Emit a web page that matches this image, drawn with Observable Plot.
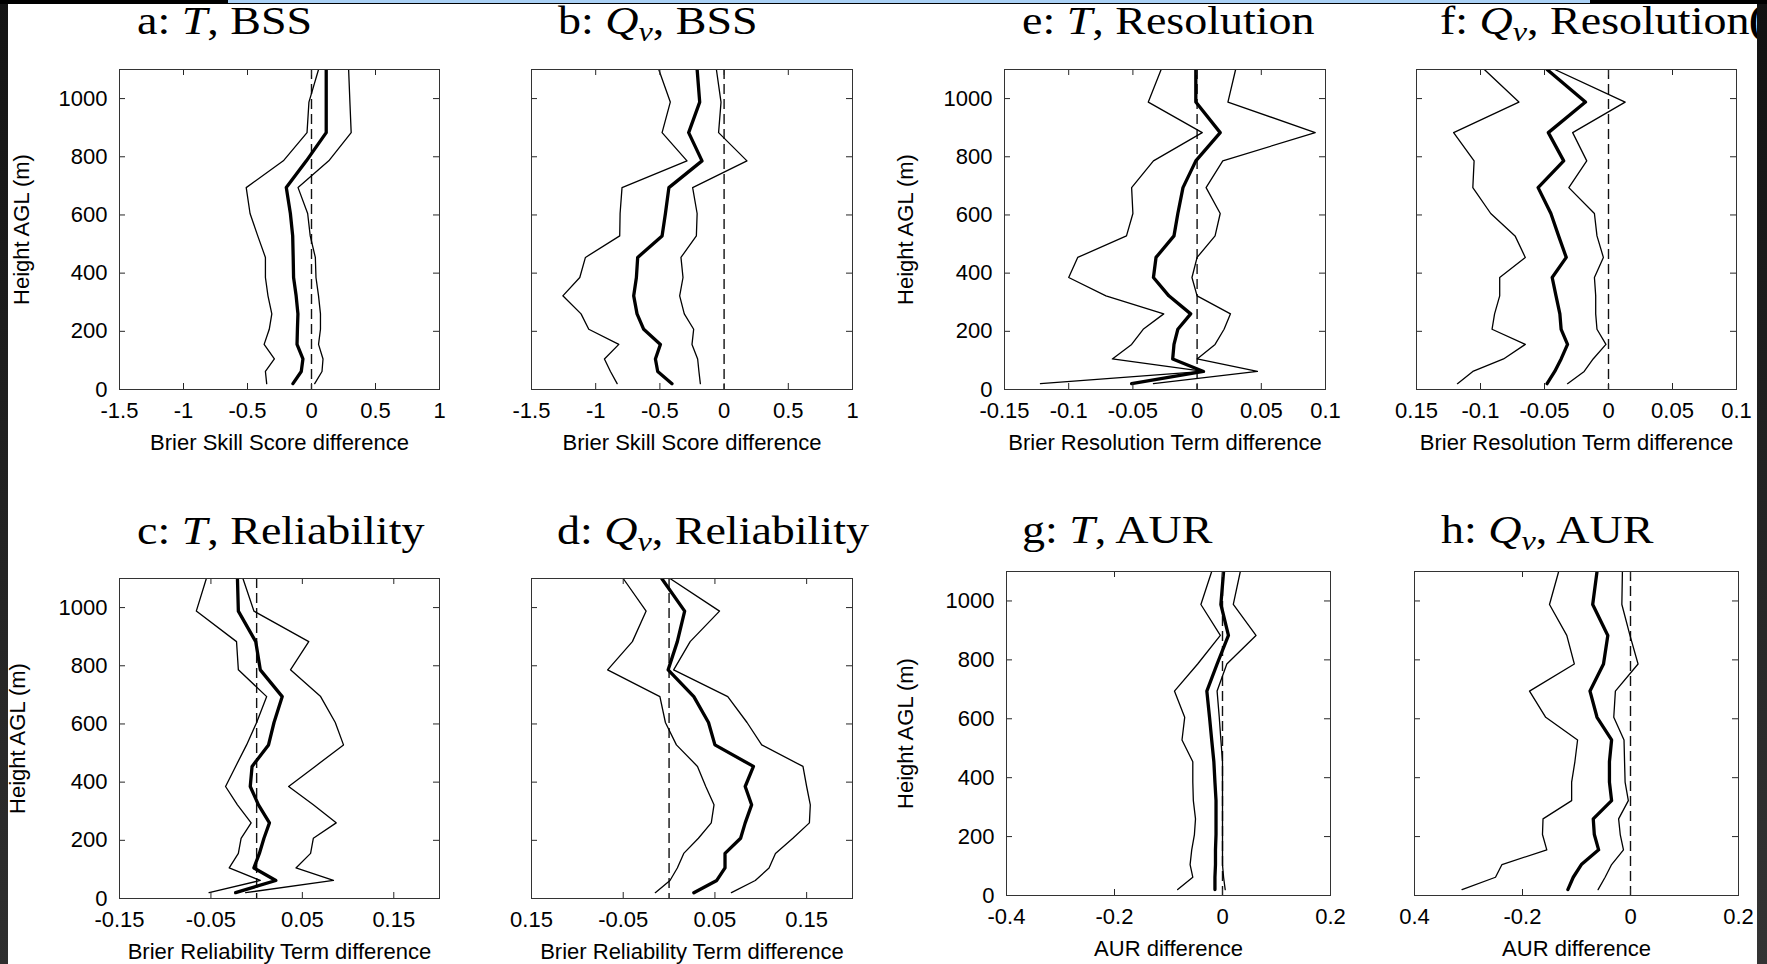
<!DOCTYPE html>
<html>
<head>
<meta charset="utf-8">
<script src="https://cdn.jsdelivr.net/npm/d3@7"></script>
<script src="https://cdn.jsdelivr.net/npm/@observablehq/plot@0.6"></script>
<style>
  html, body { margin: 0; padding: 0; background: #fff; }
  #root { position: relative; width: 1767px; height: 964px; overflow: hidden; background: #fff; }
  .panel { position: absolute; }
  .strip { position: absolute; z-index: 10; }
  #titles { position: absolute; left: 0; top: 0; z-index: 5; pointer-events: none; }
</style>
</head>
<body>
<div id="root"></div>
<script>
// ---------------- data ----------------
const heights = [20, 62, 105, 155, 207, 260, 322, 385, 454, 528, 605, 694, 786, 883, 988, 1100];

// a: T, BSS
const aLow  = [-0.35, -0.36, -0.29, -0.37, -0.33, -0.31, -0.34, -0.36, -0.36, -0.42, -0.48, -0.51, -0.22, -0.035, -0.02, 0.055];
const aMid  = [-0.145, -0.08, -0.067, -0.113, -0.11, -0.106, -0.12, -0.14, -0.143, -0.147, -0.165, -0.197, -0.04, 0.115, 0.115, 0.115];
const aHigh = [0.025, 0.082, 0.09, 0.055, 0.07, 0.07, 0.055, 0.035, 0.03, -0.01, -0.03, -0.105, 0.135, 0.31, 0.3, 0.29];
// b: Qv, BSS
const bLow  = [-0.833, -0.885, -0.932, -0.82, -1.054, -1.114, -1.256, -1.124, -1.08, -0.813, -0.81, -0.795, -0.289, -0.483, -0.419, -0.509];
const bMid  = [-0.406, -0.517, -0.535, -0.496, -0.626, -0.678, -0.704, -0.683, -0.673, -0.483, -0.457, -0.43, -0.172, -0.276, -0.19, -0.21];
const bHigh = [-0.185, -0.196, -0.206, -0.25, -0.237, -0.31, -0.346, -0.32, -0.336, -0.216, -0.21, -0.245, 0.178, -0.043, -0.024, -0.06];
// e: T, Resolution
const eLow  = [-0.122, 0.005, -0.066, -0.051, -0.042, -0.026, -0.071, -0.1, -0.093, -0.055, -0.05, -0.051, -0.034, 0.004, -0.038, -0.028];
const eMid  = [-0.051, 0.005, -0.019, -0.018, -0.015, -0.005, -0.022, -0.034, -0.032, -0.018, -0.015, -0.011, -0.001, 0.018, -0.001, -0.001];
const eHigh = [-0.034, 0.047, 0, 0.014, 0.021, 0.026, 0, -0.004, 0, 0.014, 0.018, 0.007, 0.02, 0.092, 0.024, 0.03];
// f: Qv, Resolution
const fLow  = [-0.118, -0.106, -0.082, -0.065, -0.091, -0.089, -0.085, -0.085, -0.065, -0.073, -0.092, -0.106, -0.105, -0.121, -0.07, -0.097];
const fMid  = [-0.048, -0.042, -0.037, -0.032, -0.037, -0.038, -0.041, -0.044, -0.033, -0.039, -0.045, -0.055, -0.035, -0.047, -0.018, -0.048];
const fHigh = [-0.032, -0.019, -0.012, -0.002, -0.009, -0.01, -0.01, -0.011, -0.004, -0.009, -0.011, -0.031, -0.017, -0.028, 0.013, -0.042];
// c: T, Reliability
const cLow  = [-0.052, 0.004, -0.03, -0.02, -0.017, -0.006, -0.021, -0.034, -0.023, -0.011, 0, 0.011, -0.02, -0.022, -0.066, -0.055];
const cMid  = [-0.023, 0.021, -0.003, 0.003, 0.008, 0.014, 0.002, -0.007, -0.005, 0.013, 0.019, 0.028, 0.004, -0.001, -0.02, -0.021];
const cHigh = [-0.012, 0.084, 0.043, 0.059, 0.062, 0.087, 0.062, 0.035, 0.064, 0.095, 0.086, 0.07, 0.037, 0.057, -0.003, -0.015];
// d: Qv, Reliability
const dLow  = [-0.015, 0.001, 0.009, 0.016, 0.032, 0.046, 0.049, 0.04, 0.031, 0.008, -0.004, -0.01, -0.067, -0.04, -0.025, -0.05];
const dMid  = [0.027, 0.052, 0.061, 0.061, 0.078, 0.083, 0.09, 0.083, 0.092, 0.05, 0.043, 0.027, -0.001, 0.009, 0.017, -0.008];
const dHigh = [0.068, 0.094, 0.109, 0.116, 0.135, 0.153, 0.154, 0.15, 0.146, 0.101, 0.085, 0.064, 0.005, 0.023, 0.055, 0.001];
// g: T, AUR
const gLow  = [-0.083, -0.055, -0.06, -0.057, -0.052, -0.05, -0.054, -0.055, -0.055, -0.075, -0.07, -0.089, -0.046, -0.004, -0.04, -0.02];
const gMid  = [-0.014, -0.014, -0.013, -0.013, -0.012, -0.012, -0.012, -0.014, -0.016, -0.02, -0.024, -0.029, -0.01, 0.011, -0.003, 0.002];
const gHigh = [0.005, 0.002, 0, 0, 0, 0, 0, 0, 0, -0.003, -0.006, -0.01, 0.008, 0.062, 0.02, 0.033];
// h: Qv, AUR
const hLow  = [-0.312, -0.25, -0.238, -0.155, -0.163, -0.162, -0.109, -0.109, -0.103, -0.098, -0.157, -0.187, -0.104, -0.118, -0.15, -0.133];
const hMid  = [-0.116, -0.106, -0.091, -0.059, -0.067, -0.069, -0.035, -0.039, -0.039, -0.035, -0.062, -0.075, -0.05, -0.042, -0.07, -0.062];
const hHigh = [-0.06, -0.047, -0.035, -0.013, -0.019, -0.022, -0.004, -0.01, -0.011, -0.012, -0.031, -0.028, 0.014, -0.001, -0.016, -0.015];

// ticks
const yTicks = [0, 200, 400, 600, 800, 1000];
const yTickLabels = ["0", "200", "400", "600", "800", "1000"];
const bssTicks = [-1.5, -1, -0.5, 0, 0.5, 1];
const bssTickLabels = ["-1.5", "-1", "-0.5", "0", "0.5", "1"];
const resTicks = [-0.15, -0.1, -0.05, 0, 0.05, 0.1];
const resTickLabelsE = ["-0.15", "-0.1", "-0.05", "0", "0.05", "0.1"];
const resTickLabelsF = ["0.15", "-0.1", "-0.05", "0", "0.05", "0.1"];
const relTicks = [-0.15, -0.05, 0.05, 0.15];
const relTickLabelsC = ["-0.15", "-0.05", "0.05", "0.15"];
const relTickLabelsD = ["0.15", "-0.05", "0.05", "0.15"];
const aurTicks = [-0.4, -0.2, 0, 0.2];
const aurTickLabelsG = ["-0.4", "-0.2", "0", "0.2"];
const aurTickLabelsH = ["0.4", "-0.2", "0", "0.2"];

// labels
const yAxisLabel = "Height AGL (m)";
const xLabelBSS = "Brier Skill Score difference";
const xLabelRes = "Brier Resolution Term difference";
const xLabelRel = "Brier Reliability Term difference";
const xLabelAUR = "AUR difference";

// ---------------- layout ----------------
const panels = [
  {letter: "a", v: "T", metric: "BSS", left: 119, top: 69, w: 320, h: 320, domain: [-1.5, 1], ticks: bssTicks, tickLabels: bssTickLabels, low: aLow, mid: aMid, high: aHigh, xLabel: xLabelBSS, xLabelDy: 60, yLabelX: 28, titleX: 137, titleY: 34},
  {letter: "b", v: "Qv", metric: "BSS", left: 531, top: 69, w: 321, h: 320, domain: [-1.5, 1], ticks: bssTicks, tickLabels: bssTickLabels, low: bLow, mid: bMid, high: bHigh, xLabel: xLabelBSS, xLabelDy: 60, yLabelX: null, titleX: 558, titleY: 34},
  {letter: "e", v: "T", metric: "Resolution", left: 1004, top: 69, w: 321, h: 320, domain: [-0.15, 0.1], ticks: resTicks, tickLabels: resTickLabelsE, low: eLow, mid: eMid, high: eHigh, xLabel: xLabelRes, xLabelDy: 60, yLabelX: 912, titleX: 1022, titleY: 34},
  {letter: "f", v: "Qv", metric: "Resolution", left: 1416, top: 69, w: 320, h: 320, domain: [-0.15, 0.1], ticks: resTicks, tickLabels: resTickLabelsF, low: fLow, mid: fMid, high: fHigh, xLabel: xLabelRes, xLabelDy: 60, yLabelX: null, titleX: 1440, titleY: 34},
  {letter: "c", v: "T", metric: "Reliability", left: 119, top: 578, w: 320, h: 320, domain: [-0.15, 0.2], ticks: relTicks, tickLabels: relTickLabelsC, low: cLow, mid: cMid, high: cHigh, xLabel: xLabelRel, xLabelDy: 60, yLabelX: 24, titleX: 137, titleY: 544},
  {letter: "d", v: "Qv", metric: "Reliability", left: 531, top: 578, w: 321, h: 320, domain: [-0.15, 0.2], ticks: relTicks, tickLabels: relTickLabelsD, low: dLow, mid: dMid, high: dHigh, xLabel: xLabelRel, xLabelDy: 60, yLabelX: null, titleX: 557, titleY: 544},
  {letter: "g", v: "T", metric: "AUR", left: 1006, top: 571, w: 324, h: 324, domain: [-0.4, 0.2], ticks: aurTicks, tickLabels: aurTickLabelsG, low: gLow, mid: gMid, high: gHigh, xLabel: xLabelAUR, xLabelDy: 60, yLabelX: 912, titleX: 1022, titleY: 543},
  {letter: "h", v: "Qv", metric: "AUR", left: 1414, top: 571, w: 324, h: 324, domain: [-0.4, 0.2], ticks: aurTicks, tickLabels: aurTickLabelsH, low: hLow, mid: hMid, high: hHigh, xLabel: xLabelAUR, xLabelDy: 60, yLabelX: null, titleX: 1441, titleY: 543}
];

const root = document.getElementById("root");
const ML = 100, MR = 20, MT = 20, MB = 80;
const ink = "#000";
const axisInk = "#262626";

function makePanel(p) {
  const fmt = new Map(p.ticks.map((t, i) => [t, p.tickLabels[i]]));
  const yfmt = new Map(yTicks.map((t, i) => [t, yTickLabels[i]]));
  const marks = [
    Plot.ruleX([0], {stroke: "#111", strokeWidth: 1.4, strokeDasharray: "10,5"}),
    Plot.line(p.low, {x: d => d, y: (d, i) => heights[i], stroke: ink, strokeWidth: 1.3, clip: true}),
    Plot.line(p.high, {x: d => d, y: (d, i) => heights[i], stroke: ink, strokeWidth: 1.3, clip: true}),
    Plot.line(p.mid, {x: d => d, y: (d, i) => heights[i], stroke: ink, strokeWidth: 3.3, clip: true}),
    Plot.tickX(p.ticks, {x: d => d, insetTop: p.h - 6, stroke: axisInk, strokeWidth: 1}),
    Plot.tickX(p.ticks, {x: d => d, insetBottom: p.h - 6, stroke: axisInk, strokeWidth: 1}),
    Plot.tickY(yTicks, {y: d => d, insetRight: p.w - 6, stroke: axisInk, strokeWidth: 1}),
    Plot.tickY(yTicks, {y: d => d, insetLeft: p.w - 6, stroke: axisInk, strokeWidth: 1}),
    Plot.frame({stroke: "#333", strokeWidth: 1}),
    Plot.axisX({ticks: p.ticks, anchor: "bottom", tickSize: 0, tickPadding: 13, tickFormat: d => fmt.get(d), label: null}),
    Plot.text([p.xLabel], {frameAnchor: "bottom", dy: p.xLabelDy, lineAnchor: "bottom", textAnchor: "middle", text: d => d, fill: ink})
  ];
  if (p.yLabelX !== null) {
    marks.push(Plot.axisY({ticks: yTicks, anchor: "left", tickSize: 0, tickPadding: 12, tickFormat: d => yfmt.get(d), label: null}));
    marks.push(Plot.text([yAxisLabel], {frameAnchor: "left", dx: p.yLabelX - p.left, rotate: -90, lineAnchor: "bottom", textAnchor: "middle", text: d => d, fill: ink}));
  }
  const chart = Plot.plot({
    width: p.w + ML + MR,
    height: p.h + MT + MB,
    marginLeft: ML, marginRight: MR, marginTop: MT, marginBottom: MB,
    x: {domain: p.domain, axis: null},
    y: {domain: [0, 1100], axis: null},
    style: {fontFamily: "'Liberation Sans', Arial, Helvetica, sans-serif", fontSize: "22px", color: "#000", background: "transparent", overflow: "visible"},
    marks
  });
  const wrap = document.createElement("div");
  wrap.className = "panel";
  wrap.style.left = (p.left - ML) + "px";
  wrap.style.top = (p.top - MT) + "px";
  wrap.appendChild(chart);
  root.appendChild(wrap);
}
panels.forEach(makePanel);

// ---------------- titles ----------------
const NS = "http://www.w3.org/2000/svg";
const tsvg = document.createElementNS(NS, "svg");
tsvg.setAttribute("id", "titles");
tsvg.setAttribute("width", 1767);
tsvg.setAttribute("height", 964);
function tspan(parent, txt, attrs) {
  const t = document.createElementNS(NS, "tspan");
  for (const k in attrs) t.setAttribute(k, attrs[k]);
  t.textContent = txt;
  parent.appendChild(t);
}
panels.forEach(p => {
  const t = document.createElementNS(NS, "text");
  t.setAttribute("transform", `translate(${p.titleX},${p.titleY}) scale(1.15,1)`);
  t.setAttribute("font-family", "'Liberation Serif', 'Times New Roman', serif");
  t.setAttribute("font-size", 40);
  t.setAttribute("fill", "#000");
  t.setAttribute("xml:space", "preserve");
  tspan(t, p.letter + ": ", {});
  if (p.v === "T") {
    tspan(t, "T", {"font-style": "italic"});
    tspan(t, ", " + p.metric, {});
  } else {
    tspan(t, "Q", {"font-style": "italic"});
    tspan(t, "v", {"font-style": "italic", "font-size": 28, dy: 7});
    tspan(t, ", " + p.metric, {dy: -7});
  }
  tsvg.appendChild(t);
});
// partially hidden glyph of the next (cropped) title
const cut = document.createElementNS(NS, "text");
cut.setAttribute("x", 1749); cut.setAttribute("y", 33);
cut.setAttribute("font-family", "'Liberation Serif', serif");
cut.setAttribute("font-size", 40); cut.setAttribute("font-weight", "bold");
cut.textContent = "(";
tsvg.appendChild(cut);
root.appendChild(tsvg);

// ---------------- screenshot edges ----------------
function strip(css) {
  const d = document.createElement("div");
  d.className = "strip";
  Object.assign(d.style, css);
  root.appendChild(d);
}
strip({left: "0px", top: "0px", width: "8px", height: "964px", background: "linear-gradient(#141414, #2f2f2f)"});
strip({left: "1757px", top: "0px", width: "10px", height: "964px", background: "linear-gradient(#111, #343434)"});
strip({left: "0px", top: "0px", width: "1767px", height: "4px", background: "#000"});
strip({left: "228px", top: "0px", width: "1362px", height: "3px", background: "#a9d0f5"});
</script>
</body>
</html>
